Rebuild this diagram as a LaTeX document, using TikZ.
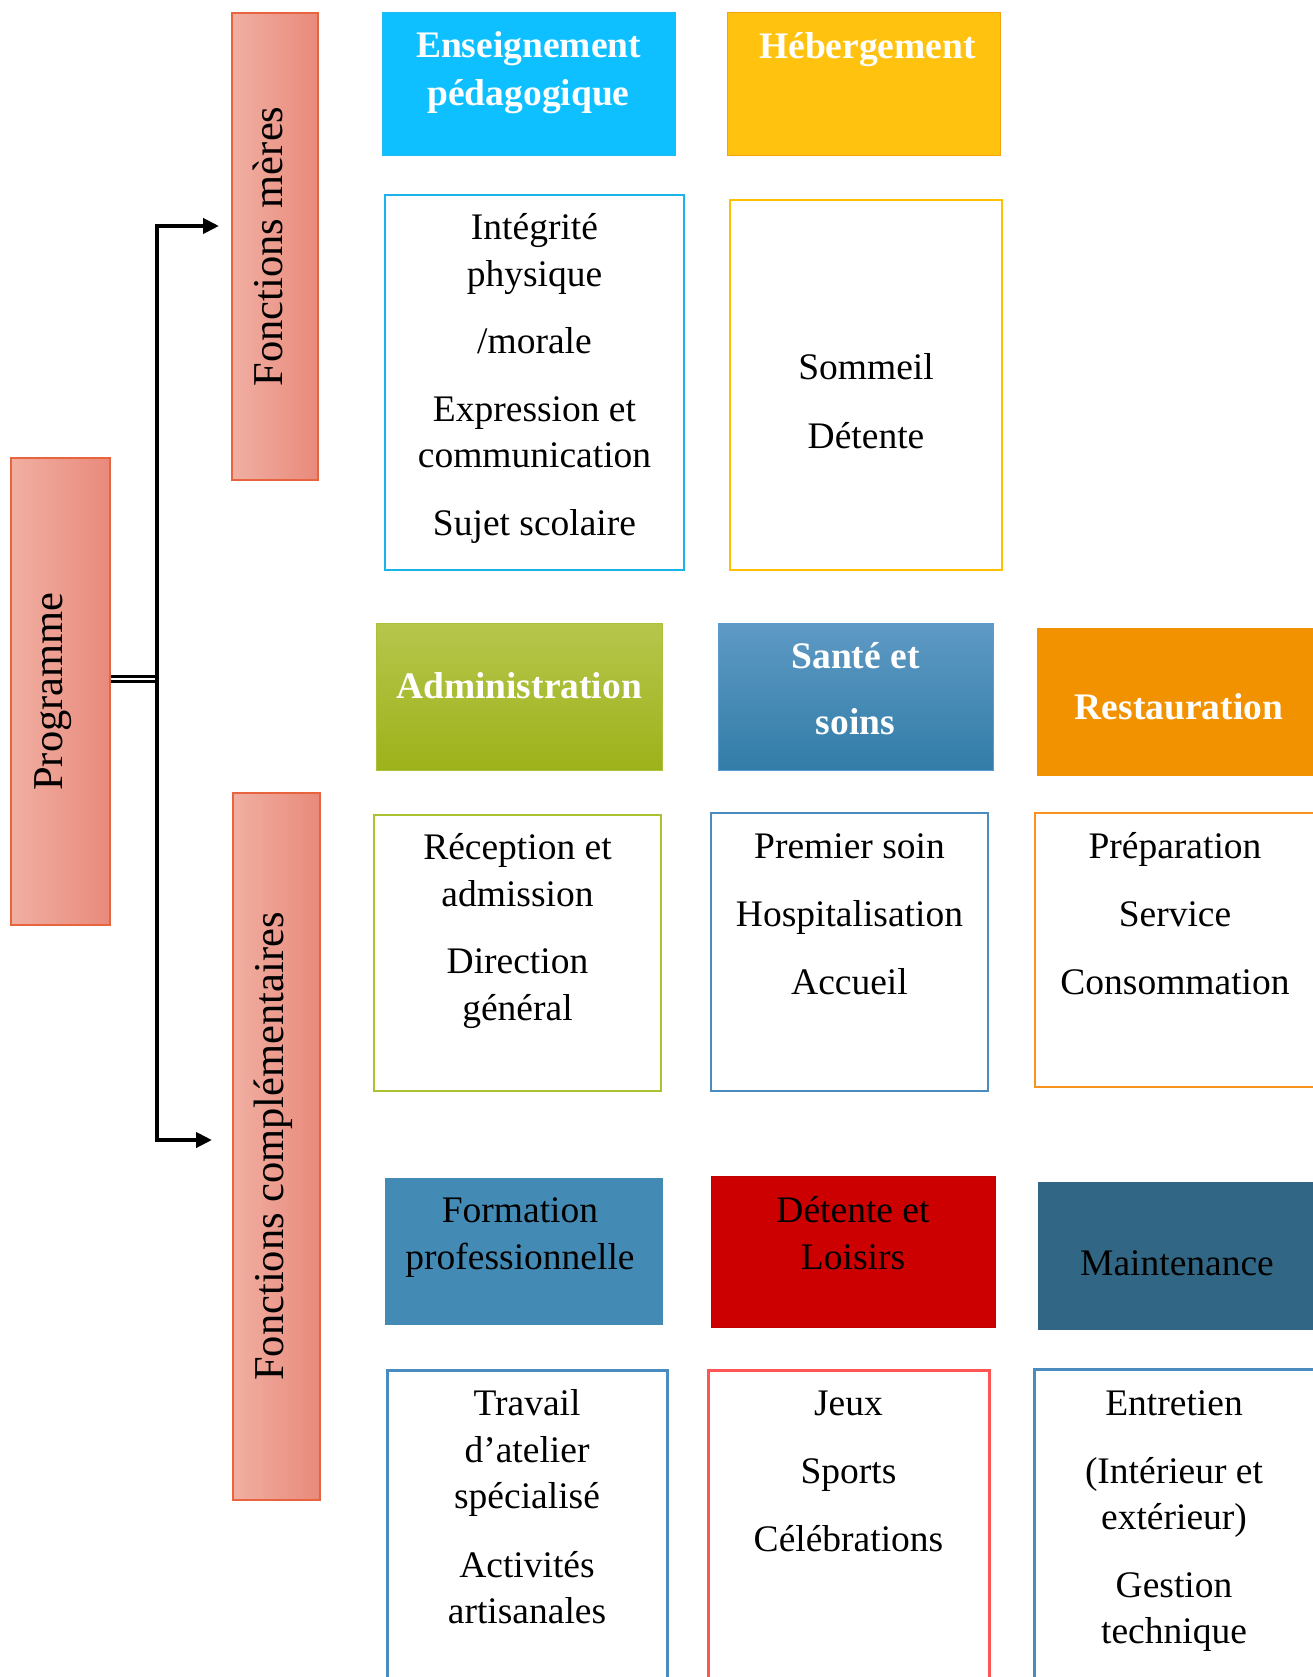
\documentclass[tikz,border=0pt]{standalone}
\usepackage{fontspec}
\setmainfont{Liberation Serif}
\usetikzlibrary{arrows.meta}
\usetikzlibrary{fit}

\definecolor{fonctLeft}{HTML}{F0AFA2}
\definecolor{fonctRight}{HTML}{E98A7B}
\definecolor{fonctEdge}{HTML}{E8643F}
\definecolor{ensFill}{HTML}{0EC0FF}
\definecolor{ensEdge}{HTML}{20BDF5}
\definecolor{ensLine}{HTML}{1AB4EA}
\definecolor{hebFill}{HTML}{FFC20E}
\definecolor{hebEdge}{HTML}{F5A20A}
\definecolor{hebLine}{HTML}{FFC000}
\definecolor{admTop}{HTML}{B6C64C}
\definecolor{admBot}{HTML}{9DB21A}
\definecolor{admEdge}{HTML}{A9C23A}
\definecolor{admLine}{HTML}{A8C230}
\definecolor{sanTop}{HTML}{5E9AC5}
\definecolor{sanBot}{HTML}{327DA8}
\definecolor{sanEdge}{HTML}{5A9BD0}
\definecolor{sanLine}{HTML}{4A8CC0}
\definecolor{resFill}{HTML}{F39200}
\definecolor{resLine}{HTML}{F7931E}
\definecolor{forFill}{HTML}{438BB5}
\definecolor{detFill}{HTML}{CC0000}
\definecolor{detEdge}{HTML}{C00000}
\definecolor{mntFill}{HTML}{316784}
\definecolor{jeuxLine}{HTML}{FF5555}

\begin{document}
\begin{tikzpicture}[
    x=0.4pt, y=-0.4pt,
    box/.style={inner sep=0pt, line width=0.8pt},
    rotbox/.style={box, draw=fonctEdge, left color=fonctLeft, right color=fonctRight, line width=0.6pt},
    rottxt/.style={rotate=90, anchor=base, inner sep=0pt, font=\fontsize{17}{20}\selectfont},
    txt/.style={anchor=north, align=center, inner sep=0pt, font=\fontsize{15}{18.5}\selectfont},
    hdrtxt/.style={txt, text=white, font=\fontsize{15}{18.4}\selectfont\bfseries},
    arrow/.style={-{Triangle[length=6.4pt, width=6pt]}, line width=1.6pt}
]
\useasboundingbox (0,0) rectangle (1312,1677);

% --- Left column ---
\node[rotbox, fit={(11,458) (110,925)}] (prog) {};
\node[rottxt] (prog-t) at (62,691.5) {Programme};
\node[rotbox, fit={(232,13) (318,480)}] (fm) {};
\node[rottxt] (fm-t) at (282,246.5) {Fonctions mères};
\node[rotbox, fit={(233,793) (320,1500)}] (fc) {};
\node[rottxt] (fc-t) at (283,1146.5) {Fonctions complémentaires};

% --- Connectors ---
\coordinate (junc) at (157,679);
\coordinate (fm-in) at (219,226);
\coordinate (fc-in) at (212,1140);
\draw[line width=1.2pt, double, double distance=0.8pt] (prog.east |- junc) -- (junc);
\foreach \t in {fm-in, fc-in}
{
    \draw[arrow] (junc) |- (\t);
}

% --- Fonctions meres ---
\node[box, draw=ensEdge, fill=ensFill, line width=0.4pt, fit={(382,13) (675,156)}] (ens) {};
\node[hdrtxt] (ens-t) at (528.5,25) {\strut Enseignement\\[0.8pt]pédagogique};
\node[box, draw=hebEdge, fill=hebFill, line width=0.4pt, fit={(727,13) (1000,156)}] (heb) {};
\node[hdrtxt] (heb-t) at (867.5,26) {\strut Hébergement};

\node[box, draw=ensLine, fit={(385,195) (684,570)}] (ens-c) {};
\node[txt] (ens-ct) at (534.5,207) {\strut Intégrité\\physique\\[8.6pt]/morale\\[8.6pt]Expression et\\communication\\[8.6pt]Sujet scolaire};
\node[box, draw=hebLine, fit={(730,200) (1002,570)}] (heb-c) {};
\node[txt] (heb-ct) at (866,347) {\strut Sommeil\\[9pt]Détente};

% --- Fonctions complementaires (1) ---
\node[box, draw=admEdge, top color=admTop, bottom color=admBot, line width=0.4pt, fit={(376,623) (662,770)}] (adm) {};
\node[hdrtxt] (adm-t) at (519,666) {\strut Administration};
\node[box, draw=sanEdge, top color=sanTop, bottom color=sanBot, line width=0.4pt, fit={(718,623) (993,770)}] (san) {};
\node[hdrtxt] (san-t) at (855.5,636) {\strut Santé et\\[8pt]soins};
\node[box, draw=resFill, fill=resFill, line width=0.4pt, fit={(1037,628) (1330,775)}] (res) {};
\node[hdrtxt] (res-t) at (1179,687) {\strut Restauration};

\node[box, draw=admLine, fit={(374,815) (661,1091)}] (adm-c) {};
\node[txt] (adm-ct) at (517.5,827) {\strut Réception et\\admission\\[8.6pt]Direction\\général};
\node[box, draw=sanLine, fit={(711,813) (988,1091)}] (san-c) {};
\node[txt] (san-ct) at (849.5,826) {\strut Premier soin\\[8.6pt]Hospitalisation\\[8.6pt]Accueil};
\node[box, draw=resLine, fit={(1035,813) (1330,1087)}] (res-c) {};
\node[txt] (res-ct) at (1175,826) {\strut Préparation\\[8.6pt]Service\\[8.6pt]Consommation};

% --- Fonctions complementaires (2) ---
\node[box, fill=forFill, fit={(385,1178) (663,1325)}] (for) {};
\node[txt] (for-t) at (520,1190) {\strut Formation\\professionnelle};
\node[box, draw=detEdge, fill=detFill, line width=0.4pt, fit={(711,1176) (995,1327)}] (det) {};
\node[txt] (det-t) at (853,1190) {\strut Détente et\\Loisirs};
\node[box, fill=mntFill, fit={(1038,1182) (1330,1330)}] (mnt) {};
\node[txt] (mnt-t) at (1177,1243) {\strut Maintenance};

\node[box, draw=sanLine, line width=1.2pt, fit={(387,1370) (667,1700)}] (for-c) {};
\node[txt] (for-ct) at (527,1383) {\strut Travail\\d’atelier\\spécialisé\\[9pt]Activités\\artisanales};
\node[box, draw=jeuxLine, line width=1.2pt, fit={(708,1370) (989,1700)}] (det-c) {};
\node[txt] (det-ct) at (848.5,1383) {\strut Jeux\\[8.6pt]Sports\\[8.6pt]Célébrations};
\node[box, draw=sanLine, line width=1.2pt, fit={(1034,1369) (1330,1700)}] (mnt-c) {};
\node[txt] (mnt-ct) at (1174,1383) {\strut Entretien\\[8.6pt](Intérieur et\\extérieur)\\[8.6pt]Gestion\\technique};

\end{tikzpicture}
\end{document}
